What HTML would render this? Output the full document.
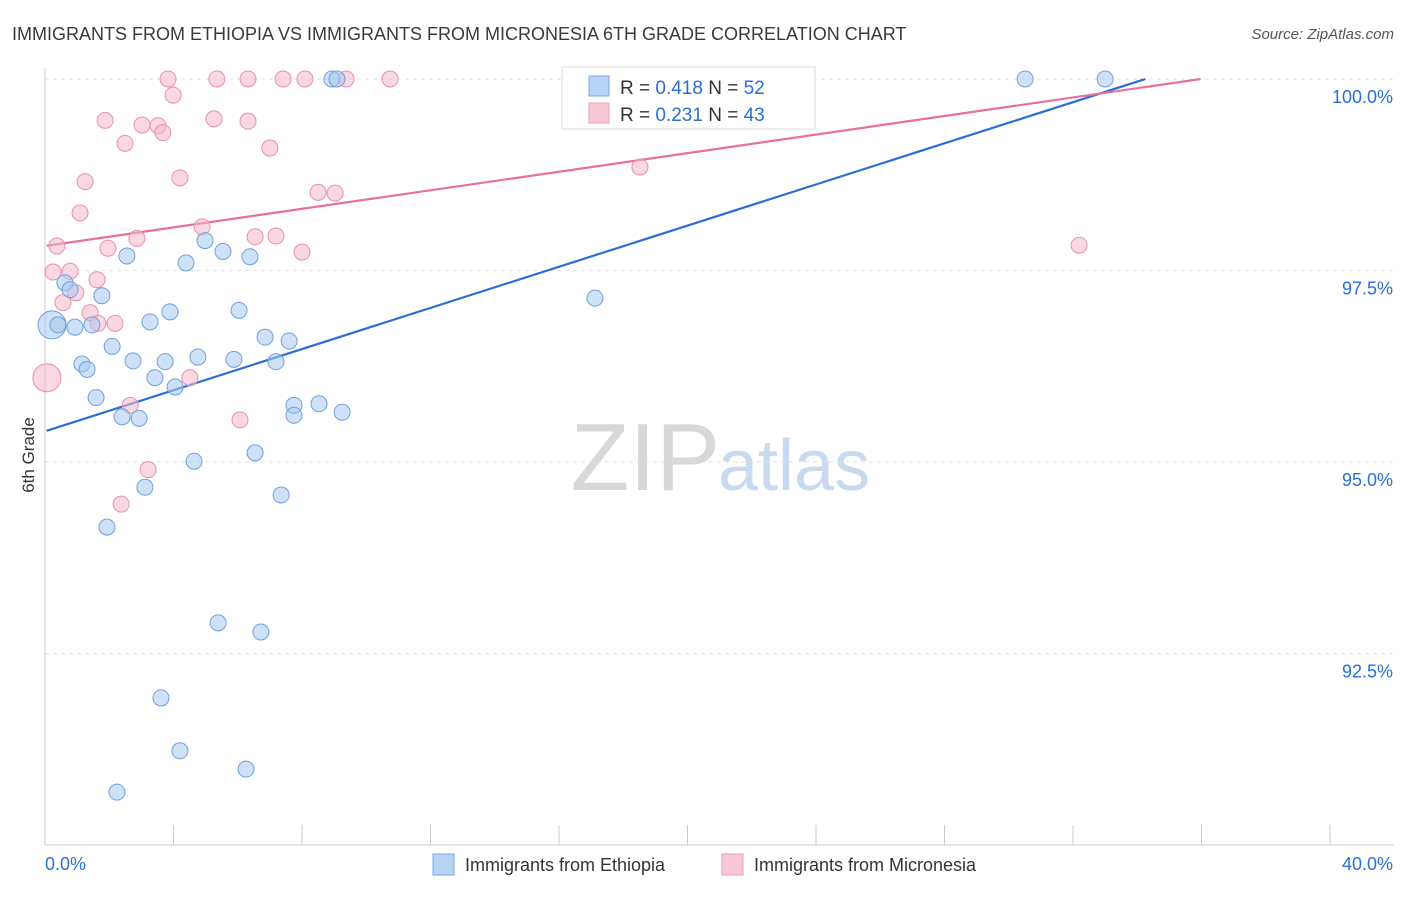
<!DOCTYPE html>
<html><head><meta charset="utf-8">
<style>
body{margin:0;background:#fff;font-family:"Liberation Sans",sans-serif;}
svg text{font-family:"Liberation Sans",sans-serif;}
</style></head>
<body>
<svg id="chart" width="1406" height="892">
<text x="12" y="40" font-size="18" fill="#3a3a3a">IMMIGRANTS FROM ETHIOPIA VS IMMIGRANTS FROM MICRONESIA 6TH GRADE CORRELATION CHART</text>
<text x="1394" y="39" font-size="15" fill="#555" font-style="italic" text-anchor="end">Source: ZipAtlas.com</text>
<text x="720" y="490" font-size="96" fill="#d8d8d8" text-anchor="end" font-family="Liberation Serif">ZIP</text>
<text x="718" y="490" font-size="72" fill="#c8daf0">atlas</text>
<text transform="translate(34,455) rotate(-90)" font-size="17" fill="#333" text-anchor="middle">6th Grade</text>
<g id="grid"></g><g id="lines"></g><g id="pts"></g>
<g>
<rect x="562" y="67" width="253" height="62" fill="#fff" stroke="#ddd"/>
<rect x="589" y="76" width="20" height="20" fill="#b8d4f5" stroke="#7aa8e0"/>
<rect x="589" y="103" width="20" height="20" fill="#f8c8d6" stroke="#e8a0b8"/>
<text x="620" y="94" font-size="19" fill="#333">R = <tspan fill="#2a6fd6">0.418</tspan>   N = <tspan fill="#2a6fd6">52</tspan></text>
<text x="620" y="121" font-size="19" fill="#333">R = <tspan fill="#2a6fd6">0.231</tspan>   N = <tspan fill="#2a6fd6">43</tspan></text>
</g>
<g>
<rect x="433" y="854" width="21" height="21" fill="#b8d4f5" stroke="#7aa8e0"/>
<text x="465" y="871" font-size="18" fill="#333">Immigrants from Ethiopia</text>
<rect x="722" y="854" width="21" height="21" fill="#f8c8d6" stroke="#e8a0b8"/>
<text x="754" y="871" font-size="18" fill="#333">Immigrants from Micronesia</text>
</g>
</svg>
<script>
const xTicks=[0,4,8,12,16,20,24,28,32,36,40];
const yTicks=[92.5,95,97.5,100];
const yTickLabels=["92.5%","95.0%","97.5%","100.0%"];
const xEndLabels=["0.0%","40.0%"];
const ethX=[0.22,0.40,0.62,0.78,0.93,1.15,1.31,1.46,1.59,1.77,1.93,2.09,2.24,2.40,2.55,2.74,2.93,3.11,3.27,3.42,3.61,3.74,3.89,4.05,4.20,4.39,4.64,4.76,4.98,5.39,5.54,5.88,6.04,6.26,6.38,6.54,6.72,6.85,7.19,7.35,7.60,7.75,7.75,8.53,8.93,9.09,9.25,17.12,23.35,30.51,33.00];
const ethY=[96.79,96.79,97.34,97.25,96.76,96.28,96.21,96.79,95.84,97.17,94.15,96.51,90.69,95.59,97.69,96.32,95.57,94.67,96.83,96.10,91.92,96.31,96.96,95.98,91.23,97.60,95.01,96.37,97.89,92.90,97.75,96.34,96.98,90.99,97.68,95.12,92.78,96.63,96.31,94.57,96.58,95.74,95.61,95.76,100,100,95.65,97.14,100,100,100];
const micX=[0.06,0.37,0.25,0.56,0.78,0.96,1.25,1.09,1.40,1.62,1.65,1.87,1.96,2.18,2.37,2.49,2.65,2.86,3.02,3.21,3.52,3.67,3.83,3.99,4.20,4.51,4.89,5.26,5.35,6.07,6.32,6.54,6.32,7.00,7.19,7.41,8.00,8.09,8.50,9.03,9.37,10.74,18.52,32.19];
const micY=[96.10,97.82,97.48,97.08,97.49,97.21,98.66,98.25,96.95,97.38,96.81,99.46,97.79,96.81,94.45,99.16,95.74,97.92,99.40,94.90,99.39,99.30,100,99.79,98.71,96.10,98.07,99.48,100,95.55,99.45,97.94,100,99.10,97.95,100,97.74,100,98.52,98.51,100,100,98.85,97.83];
const trendIntercept=[95.40,97.82];
const trendSlope=[0.1343,0.0606];
const NS="http://www.w3.org/2000/svg";
const X=v=>45+v*32.125, Y=v=>79+(100-v)*76.6;
function mk(t,a,p){const e=document.createElementNS(NS,t);for(const k in a)e.setAttribute(k,a[k]);p.appendChild(e);return e;}
const grid=document.getElementById('grid'),lines=document.getElementById('lines'),pts=document.getElementById('pts'),svg=document.getElementById('chart');
yTicks.forEach((t,i)=>{
 const l=mk('line',{x1:45,x2:1394,y1:Y(t),y2:Y(t),stroke:'#e2e2e2','stroke-dasharray':'4,4'},grid);
 
 
 const tx=mk('text',{x:1393,y:Y(t)+24,'font-size':18,fill:'#2a6fd6','text-anchor':'end'},grid);
 tx.textContent=yTickLabels[i];
 
 
});
const ax=mk('line',{x1:45,x2:1394,y1:845,y2:845,stroke:'#ccc'},grid);


const ay=mk('line',{x1:45,x2:45,y1:68,y2:845,stroke:'#ccc'},grid);


xTicks.forEach(t=>{
 const l=mk('line',{x1:X(t),x2:X(t),y1:825,y2:845,stroke:'#ccc'},grid);
 
 
});
[[0,'start'],[40,'end']].forEach((a,i)=>{
 const tx=mk('text',{x:a[0]?1393:45,y:870,'font-size':18,fill:'#2a6fd6','text-anchor':a[1]},grid);
 tx.textContent=xEndLabels[i];
 
 
});
function drawPts(xs,ys,fill,stroke,name){
 xs.forEach((x,i)=>{
  const big=(i===0);
  const c=mk('circle',{cx:X(x),cy:Y(ys[i]),r:big?14:8,fill:fill,'fill-opacity':0.55,stroke:stroke,'stroke-width':1},pts);
  
  
 });
}
drawPts(micX,micY,'#f5b8ca','#e890aa','point-micronesia');
drawPts(ethX,ethY,'#a8c8f0','#6fa0e0','point-ethiopia');
const cols=['#2a6fd6','#e8709a'],names=['trend-line-ethiopia','trend-line-micronesia'];
[0,1].forEach(k=>{
 const b=trendIntercept[k],m=trendSlope[k];
 let x2=40; if(b+m*40>100) x2=(100-b)/m;
 const l=mk('line',{x1:X(0.05),y1:Y(b+m*0.05),x2:X(x2),y2:Y(b+m*x2),stroke:cols[k],'stroke-width':2.2},lines);
 
 
});
</script>
</body></html>
